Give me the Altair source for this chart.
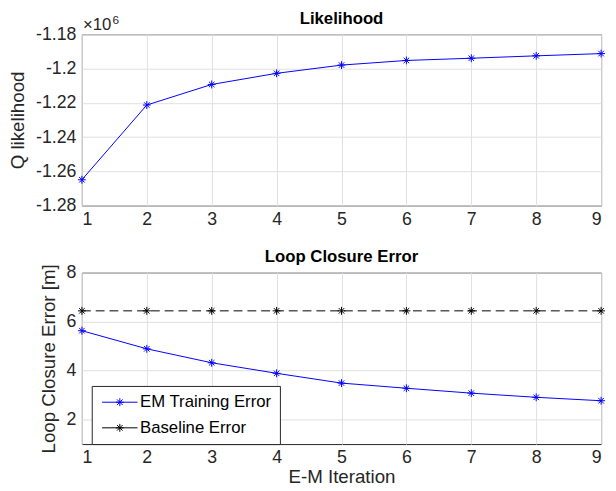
import altair as alt
import pandas as pd

# ---- data ----
iterations = [1, 2, 3, 4, 5, 6, 7, 8, 9]
q_likelihood = [-1.2649, -1.2213, -1.2093, -1.2028, -1.1980, -1.1953, -1.1940, -1.1926, -1.1913]  # x10^6
em_training_error = [5.63, 4.89, 4.32, 3.89, 3.49, 3.28, 3.08, 2.91, 2.77]
baseline_error = [6.44, 6.44, 6.44, 6.44, 6.44, 6.44, 6.44, 6.44, 6.44]
series_names = ["EM Training Error", "Baseline Error"]
series_colors = ["#0000ff", "#000000"]
top_yticks = [-1.28, -1.26, -1.24, -1.22, -1.20, -1.18]
bottom_yticks = [2, 4, 6, 8]
exponent_base = ["×10"]
exponent_power = ["6"]

FONT = "Liberation Sans"
AXC = "#262626"
GRID = "#dfdfdf"
STAR = "M-1,0L1,0M0,-1L0,1M-0.7,-0.7L0.7,0.7M-0.7,0.7L0.7,-0.7"
LEG_SYM = ("M-1,0L5,0M2,-0.67L2,0.67M1.33,0L2.67,0"
           "M1.53,-0.47L2.47,0.47M1.53,0.47L2.47,-0.47")

W, H = 527, 174
TICK_FS = 18
TITLE_FS = 17

x_axis = alt.Axis(values=iterations, format="d", title=None, grid=True, ticks=False,
                  domain=False, labelPadding=5)

# ---- top panel ----
top_df = pd.DataFrame({"iter": iterations, "q": q_likelihood})
xq = alt.X("iter:Q", scale=alt.Scale(domain=[1, 9], nice=False, zero=False), axis=x_axis)
yq = alt.Y("q:Q", scale=alt.Scale(domain=[-1.28, -1.18], nice=False, zero=False),
           axis=alt.Axis(values=top_yticks, title="Q likelihood", titleX=-55,
                         labelExpr="replace(format(datum.value, '.2~f'), '\u2212', '-')",
                         grid=True, ticks=False, domain=False, labelPadding=6))
top_line = alt.Chart(top_df).mark_line(color="#0000ff", strokeWidth=1).encode(x=xq, y=yq)
top_pts = alt.Chart(top_df).mark_point(shape=STAR, size=64, filled=False, color="#0000ff",
                                       strokeWidth=1, opacity=1).encode(x=xq, y=yq)
exp1 = alt.Chart(pd.DataFrame({"t": exponent_base})).mark_text(
    align="left", baseline="alphabetic", font=FONT, fontSize=17, color=AXC
).encode(x=alt.value(1), y=alt.value(-4), text="t:N")
exp2 = alt.Chart(pd.DataFrame({"t": exponent_power})).mark_text(
    align="left", baseline="alphabetic", font=FONT, fontSize=12, color=AXC
).encode(x=alt.value(31), y=alt.value(-10), text="t:N")

top = alt.layer(top_line, top_pts, exp1, exp2).properties(
    width=W, height=H,
    title=alt.TitleParams("Likelihood", font=FONT, fontSize=TITLE_FS, fontWeight="bold",
                          color="black", offset=-14, frame="group"))

# ---- bottom panel ----
rows = []
for i, v in zip(iterations, em_training_error):
    rows.append({"iter": i, "err": v, "series": series_names[0]})
for i, v in zip(iterations, baseline_error):
    rows.append({"iter": i, "err": v, "series": series_names[1]})
bot_df = pd.DataFrame(rows)

xb = alt.X("iter:Q", scale=alt.Scale(domain=[1, 9], nice=False, zero=False),
           axis=alt.Axis(values=iterations, format="d", title="E-M Iteration", grid=True,
                         ticks=False, domain=False, labelPadding=5, titlePadding=1))
yb = alt.Y("err:Q", scale=alt.Scale(domain=[1, 8], nice=False, zero=False),
           axis=alt.Axis(values=bottom_yticks, title="Loop Closure Error [m]", titleX=-24,
                         grid=True, ticks=False, domain=False, labelPadding=6))
color = alt.Color("series:N", scale=alt.Scale(domain=series_names, range=series_colors),
                  legend=alt.Legend(title=None, orient="none", legendX=10, legendY=357,
                                    symbolType=LEG_SYM, symbolSize=144, symbolStrokeWidth=1,
                                    labelFont=FONT, labelFontSize=17, labelColor="black",
                                    labelOffset=24, padding=8, rowPadding=8,
                                    strokeColor=AXC, fillColor="white"))

em_line = alt.Chart(bot_df).transform_filter(
    alt.datum.series == series_names[0]
).mark_line(strokeWidth=1).encode(x=xb, y=yb, color=color)
base_line = alt.Chart(bot_df).transform_filter(
    alt.datum.series == series_names[1]
).mark_line(strokeWidth=1, strokeDash=[9, 5]).encode(x=xb, y=yb, color=color)
bot_pts = alt.Chart(bot_df).mark_point(shape=STAR, size=64, filled=False, strokeWidth=1,
                                       opacity=1).encode(x=xb, y=yb, color=color)

bottom = alt.layer(em_line, base_line, bot_pts).properties(
    width=W, height=H,
    title=alt.TitleParams("Loop Closure Error", font=FONT, fontSize=TITLE_FS,
                          fontWeight="bold", color="black", offset=-2, frame="group"))

chart = alt.vconcat(top, bottom, spacing=68, bounds="flush").properties(
    padding={"left": 0, "top": -2, "right": 0, "bottom": 0}
).configure(background="white").configure_view(
    stroke=AXC, strokeWidth=1
).configure_axis(
    labelFont=FONT, labelFontSize=TICK_FS, labelColor=AXC, titleFont=FONT, titleFontSize=19,
    titleColor=AXC, titleFontWeight="normal", gridColor=GRID, gridWidth=1
)

chart.save("out.html", embed_options={"renderer": "svg", "actions": False})
